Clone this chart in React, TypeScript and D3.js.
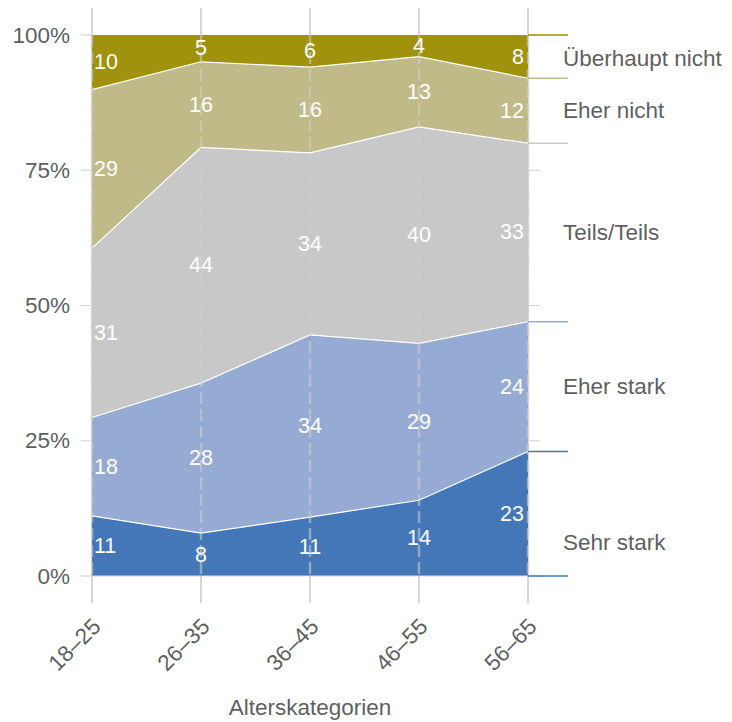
import React from "react";
import * as d3 from "d3";

const categories = ["18–25", "26–35", "36–45", "46–55", "56–65"];
const seriesNames = ["Sehr stark", "Eher stark", "Teils/Teils", "Eher nicht", "Überhaupt nicht"];
const sehrStark = [11, 8, 11, 14, 23];
const eherStark = [18, 28, 34, 29, 24];
const teilsTeils = [31, 44, 34, 40, 33];
const eherNicht = [29, 16, 16, 13, 12];
const ueberhauptNicht = [10, 5, 6, 4, 8];
const yTicks = [0, 0.25, 0.5, 0.75, 1];
const xTitle = "Alterskategorien";

const colors = ["#4477B8", "#95ABD3", "#C8C8C8", "#BFBA87", "#A0920D"];
// legend label nudge (in share units) relative to the band centre at the last column
const legendNudge = [-0.053, 0, 0, 0, -0.004];

const W = 732;
const H = 722;
const FONT = "'Liberation Sans', Arial, Helvetica, sans-serif";

export default function App() {
  const series = [sehrStark, eherStark, teilsTeils, eherNicht, ueberhauptNicht];
  const table = categories.map((c, i) => {
    const row: any = { cat: c };
    const total = series.reduce((s, arr) => s + arr[i], 0);
    seriesNames.forEach((n, k) => (row[n] = series[k][i] / total));
    return row;
  });
  const stacked = d3.stack<any>().keys(seriesNames)(table);

  const x = d3.scalePoint<string>().domain(categories).range([92, 528]);
  const y = d3.scaleLinear().domain([0, 1]).range([576, 35]);

  const area = d3
    .area<any>()
    .x((d) => x(d.data.cat)!)
    .y0((d) => y(d[0]))
    .y1((d) => y(d[1]));
  const topLine = d3
    .line<any>()
    .x((d) => x(d.data.cat)!)
    .y((d) => y(d[1]));

  const last = categories.length - 1;
  const gridColor = "#d6d6d6";

  return (
    <svg width={W} height={H} style={{ position: "absolute", left: 0, top: 0, fontFamily: FONT }}>
      <rect width={W} height={H} fill="#fff" />
      {/* solid grid under areas */}
      {categories.map((c) => (
        <line key={"g" + c} x1={x(c)} x2={x(c)} y1={8} y2={603} stroke={gridColor} strokeWidth={2} />
      ))}
      {/* areas */}
      {stacked.map((s, k) => (
        <path key={"a" + k} d={area(s)!} fill={colors[k]} />
      ))}
      {stacked.slice(0, 4).map((s, k) => (
        <path key={"l" + k} d={topLine(s)!} fill="none" stroke="#fff" strokeWidth={1.2} />
      ))}
      {/* dashed grid on top */}
      {categories.map((c) => (
        <line
          key={"d" + c}
          x1={x(c)}
          x2={x(c)}
          y1={35}
          y2={576}
          stroke="#d0d0d0"
          strokeOpacity={0.55}
          strokeWidth={2.5}
          strokeDasharray="12 5"
        />
      ))}
      {/* left axis ticks & labels */}
      {yTicks.map((t) => (
        <g key={"yt" + t}>
          <line x1={81} x2={92} y1={y(t)} y2={y(t)} stroke={gridColor} strokeWidth={1.2} />
          <line x1={528} x2={540} y1={y(t)} y2={y(t)} stroke={gridColor} strokeWidth={1.2} />
          <text
            x={70}
            y={y(t)}
            textAnchor="end"
            dominantBaseline="central"
            fontSize={22.5}
            fill="#5f5f5f"
          >
            {d3.format(".0%")(t)}
          </text>
        </g>
      ))}
      <line x1={92} x2={528} y1={y(0)} y2={y(0)} stroke="#dcdcdc" strokeWidth={1} />
      {/* right legend lines */}
      {stacked.map((s, k) => (
        <line
          key={"rl" + k}
          x1={528}
          x2={568}
          y1={y(s[last][1])}
          y2={y(s[last][1])}
          stroke={colors[k]}
          strokeWidth={1.5}
        />
      ))}
      <line x1={528} x2={568} y1={y(0)} y2={y(0)} stroke={colors[0]} strokeWidth={1.5} />
      {/* legend labels */}
      {stacked.map((s, k) => {
        const mid = (s[last][0] + s[last][1]) / 2 + legendNudge[k];
        return (
          <text
            key={"lt" + k}
            x={563}
            y={y(mid)}
            dominantBaseline="central"
            fontSize={22.5}
            fill="#5f5f5f"
          >
            {seriesNames[k]}
          </text>
        );
      })}
      {/* value labels */}
      {stacked.map((s, k) =>
        s.map((d, i) => {
          const cx = x(categories[i])!;
          const anchor = i === 0 ? "start" : i === last ? "end" : "middle";
          const tx = i === 0 ? cx + 2 : i === last ? cx - 4 : cx;
          return (
            <text
              key={"v" + k + "-" + i}
              x={tx}
              y={y((d[0] + d[1]) / 2)}
              textAnchor={anchor}
              dominantBaseline="central"
              fontSize={21.5}
              fill="#fff"
            >
              {series[k][i]}
            </text>
          );
        })
      )}
      {/* x tick labels */}
      {categories.map((c) => (
        <text
          key={"xl" + c}
          transform={`translate(${x(c)! + 10},${628}) rotate(-45)`}
          textAnchor="end"
          fontSize={22.5}
          fill="#5f5f5f"
        >
          {c}
        </text>
      ))}
      <text x={310} y={715} textAnchor="middle" fontSize={22.5} fill="#5f5f5f">
        {xTitle}
      </text>
    </svg>
  );
}
